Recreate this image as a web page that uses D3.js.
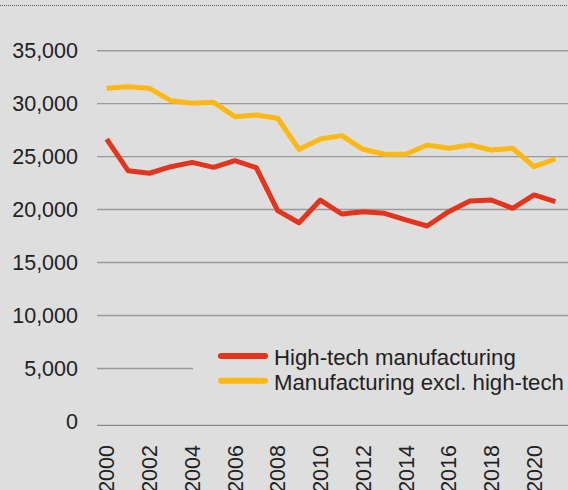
<!DOCTYPE html>
<html>
<head>
<meta charset="utf-8">
<script src="https://cdn.jsdelivr.net/npm/d3@7"></script>
<style>
  body { margin: 0; background: #dedede; }
  svg { display: block; }
  text { font-family: "Liberation Sans", Arial, sans-serif; fill: #222; }
</style>
</head>
<body>
<svg id="chart" width="568" height="490"></svg>
<script>
var years = d3.range(2000, 2022);
var highTech = [26660, 23670, 23430, 24050, 24460, 23990, 24620, 23960, 19900, 18760, 20900,
  19580, 19800, 19650, 19020, 18450, 19800, 20810, 20900, 20120, 21380, 20750];
var mfgExcl = [31450, 31600, 31450, 30280, 30030, 30130, 28770, 28930, 28620, 25690, 26660,
  26980, 25690, 25220, 25220, 26100, 25790, 26100, 25630, 25790, 24050, 24780];
var yTicks = [0, 5000, 10000, 15000, 20000, 25000, 30000, 35000];
var xTicks = [2000, 2002, 2004, 2006, 2008, 2010, 2012, 2014, 2016, 2018, 2020];
var seriesNames = ["High-tech manufacturing", "Manufacturing excl. high-tech"];
var colors = ["#e3351e", "#fdb812"];

var svg = d3.select("#chart");

var x = d3.scaleLinear().domain([2000, 2021]).range([106.7, 555.4]);
var y = d3.scaleLinear().domain([0, 35000]).range([421.4, 50.7]);

// dotted top rule
svg.append("line")
  .attr("x1", 0).attr("x2", 568).attr("y1", 5.5).attr("y2", 5.5)
  .attr("stroke", "#555").attr("stroke-width", 1)
  .attr("stroke-dasharray", "1,1");

// gridlines
svg.append("g")
  .selectAll("line")
  .data(yTicks.filter(function(d){ return d > 0; }))
  .enter().append("line")
  .attr("x1", 97).attr("x2", 568)
  .attr("y1", function(d){ return y(d); })
  .attr("y2", function(d){ return y(d); })
  .attr("stroke", "#9a9a9a").attr("stroke-width", 1.4);

// x axis line (sits a touch below zero)
svg.append("line")
  .attr("x1", 97).attr("x2", 568)
  .attr("y1", y(0) + 4).attr("y2", y(0) + 4)
  .attr("stroke", "#8a8a8a").attr("stroke-width", 1.4);

// y labels
svg.append("g")
  .selectAll("text")
  .data(yTicks)
  .enter().append("text")
  .attr("x", 78)
  .attr("y", function(d){ return y(d); })
  .attr("dy", "0.36em")
  .attr("text-anchor", "end")
  .style("font-size", "21.5px")
  .text(function(d){ return d3.format(",")(d); });

// x labels, rotated
svg.append("g")
  .selectAll("text")
  .data(xTicks)
  .enter().append("text")
  .attr("transform", function(d){ return "translate(" + x(d) + ",445) rotate(-90)"; })
  .attr("dy", "0.36em")
  .attr("text-anchor", "end")
  .style("font-size", "21.5px")
  .text(function(d){ return d; });

var line = d3.line()
  .x(function(d, i){ return x(years[i]); })
  .y(function(d){ return y(d); });

[highTech, mfgExcl].forEach(function(s, k){
  svg.append("path")
    .datum(s)
    .attr("d", line)
    .attr("fill", "none")
    .attr("stroke", colors[k])
    .attr("stroke-width", 5)
    .attr("stroke-linejoin", "round");
});

// legend box covers gridlines
var lg = svg.append("g");
lg.append("rect")
  .attr("x", 193).attr("y", 332).attr("width", 375).attr("height", 66)
  .attr("fill", "#dedede");

lg.selectAll("line")
  .data(seriesNames)
  .enter().append("line")
  .attr("x1", 221).attr("x2", 265)
  .attr("y1", function(d, i){ return 356 + i * 24.7; })
  .attr("y2", function(d, i){ return 356 + i * 24.7; })
  .attr("stroke", function(d, i){ return colors[i]; })
  .attr("stroke-width", 6)
  .attr("stroke-linecap", "round");

lg.selectAll("text")
  .data(seriesNames)
  .enter().append("text")
  .attr("x", 274)
  .attr("y", function(d, i){ return 357 + i * 24.7; })
  .attr("dy", "0.36em")
  .style("font-size", "22.2px")
  .text(function(d){ return d; });
</script>
</body>
</html>
